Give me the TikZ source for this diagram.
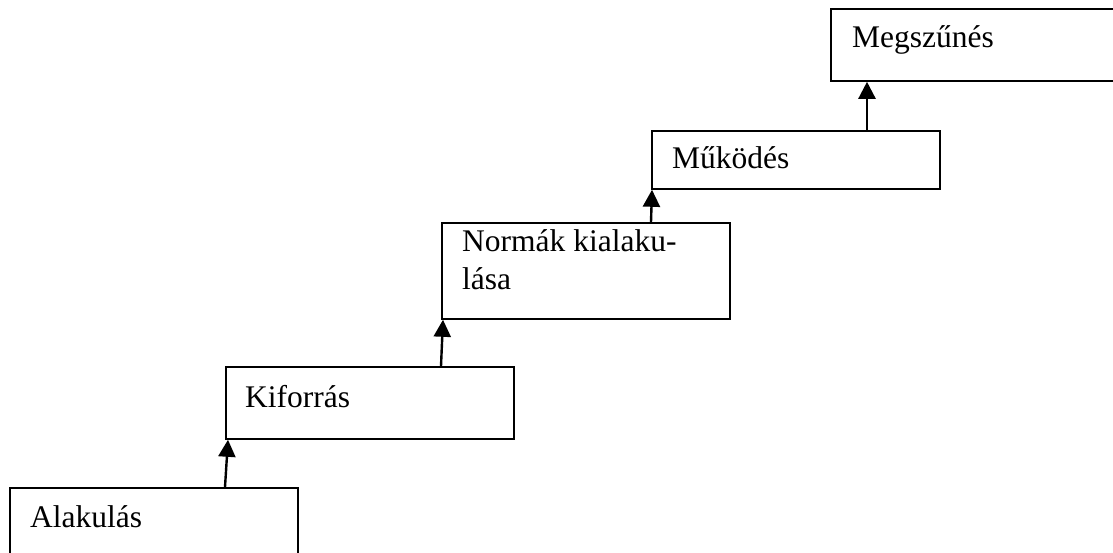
\documentclass[tikz,border=0pt]{standalone}
\usepackage{fontspec}
\setmainfont{Liberation Serif}
\usetikzlibrary{arrows.meta}
\tikzset{
  stagebox/.style={draw, line width=1.8pt, inner sep=0pt, anchor=north west},
  stagetext/.style={anchor=base west, inner sep=0pt, font=\fontsize{31.5}{38}\selectfont, align=left},
  uparrow/.style={line width=2.4pt, -{Triangle[length=17pt,width=17pt]}}
}
\begin{document}
\begin{tikzpicture}[x=1pt,y=1pt]
\useasboundingbox (0,0) rectangle (1113,-553);
\clip (0,0) rectangle (1113,-553);
\fill[white] (0,0) rectangle (1113,-553);
% boxes
\node[stagebox, minimum width=288pt, minimum height=133pt] (A) at (9,-487) {};
\node[stagebox, minimum width=288pt, minimum height=72pt] (K) at (225,-366) {};
\node[stagebox, minimum width=288pt, minimum height=96pt] (N) at (441,-222) {};
\node[stagebox, minimum width=288pt, minimum height=58pt] (M) at (651,-130) {};
\node[stagebox, minimum width=320pt, minimum height=72pt] (G) at (830,-8) {};
% texts
\node[stagetext] (tA) at (30,-527) {Alakulás};
\node[stagetext] (tK) at (245,-407) {Kiforrás};
\node[stagetext] (tN) at (462,-290) {Normák kialaku-\\lása};
\node[stagetext] (tM) at (672,-169) {Működés};
\node[stagetext] (tG) at (852,-48) {Megszűnés};
% arrows
\draw[uparrow] ([xshift=216pt]A.north west) -- ([xshift=3pt]K.south west);
\draw[uparrow] ([xshift=216pt]K.north west) -- ([xshift=2pt]N.south west);
\draw[uparrow] ([xshift=210pt]N.north west) -- ([xshift=1pt]M.south west);
\draw[uparrow] ([xshift=216pt]M.north west) -- ([xshift=37pt]G.south west);
\end{tikzpicture}
\end{document}
